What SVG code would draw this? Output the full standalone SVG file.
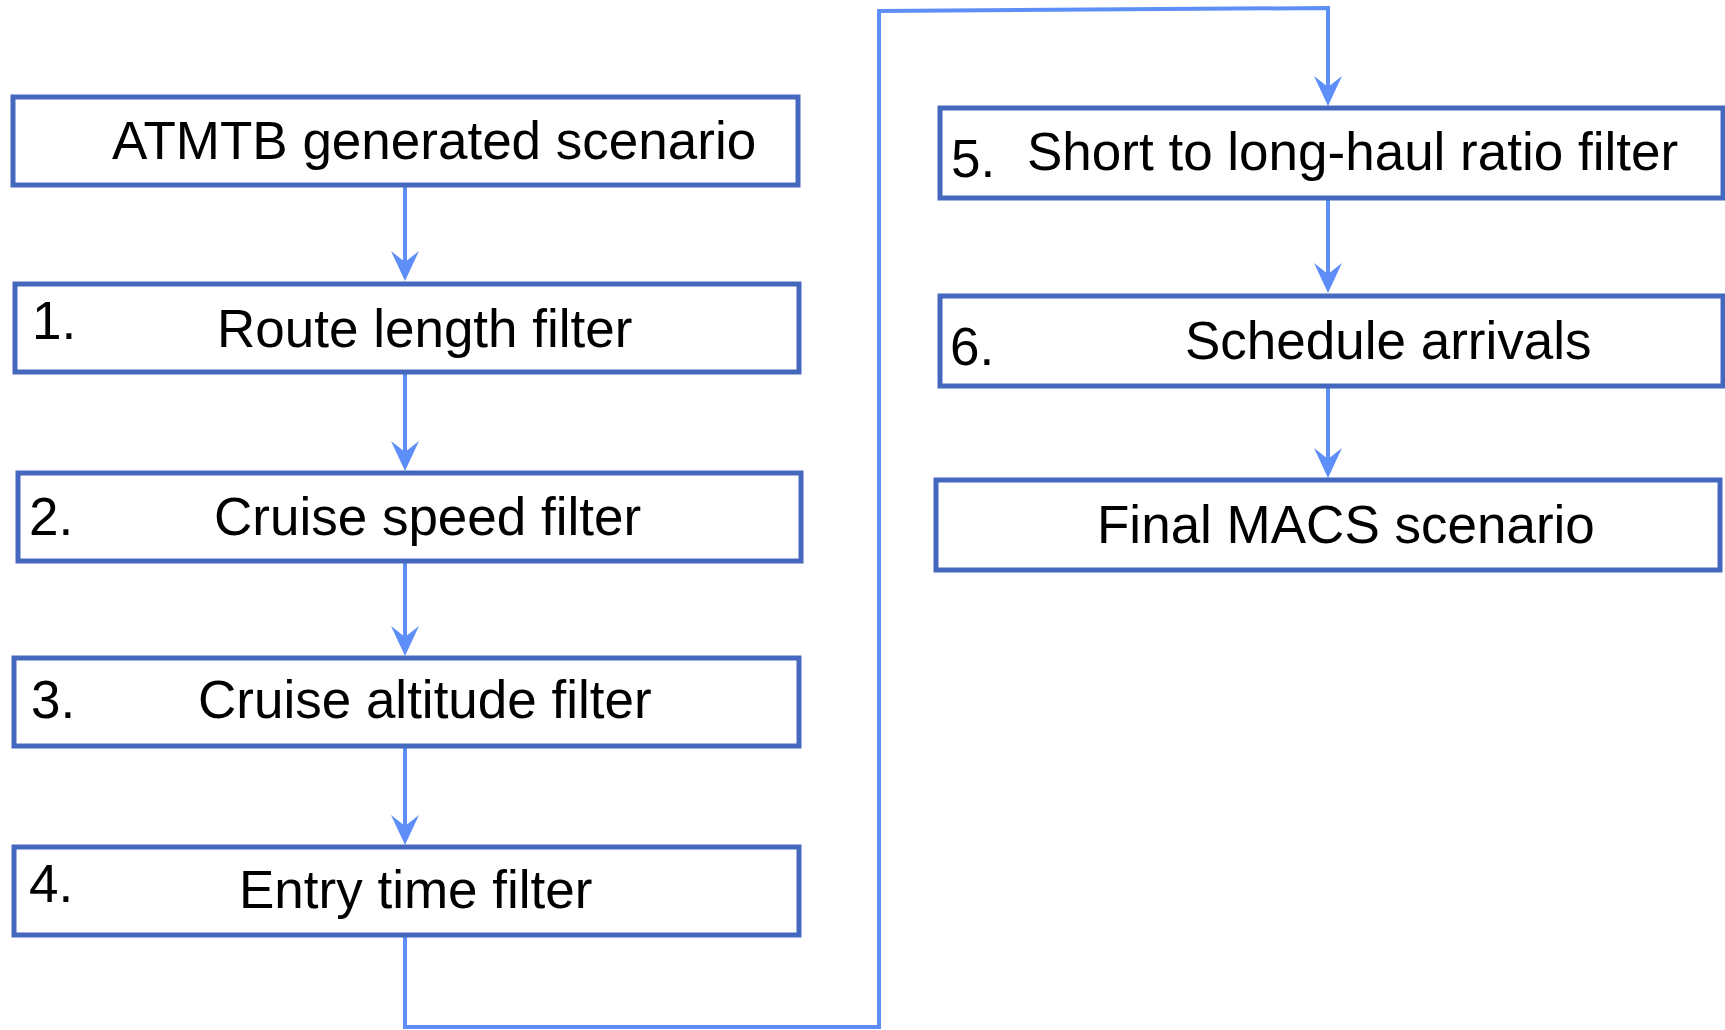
<svg xmlns="http://www.w3.org/2000/svg" width="1725" height="1030" viewBox="0 0 1725 1030">
<defs>
<marker id="ah" markerUnits="userSpaceOnUse" viewBox="-32 -16 34 32" markerWidth="34" markerHeight="32" refX="-12" refY="0" orient="auto">
<path d="M0,0 L-30,-14 L-19,0 L-30,14 Z" fill="#5E8EF7"/>
</marker>
</defs>
<style>
.box{fill:#ffffff;stroke:#4468BE;stroke-width:5}
.t{font-family:"Liberation Sans",Arial,sans-serif;font-size:53px;fill:#000000}
.c{fill:none;stroke:#5E8EF7;stroke-width:4}
.a{marker-end:url(#ah)}
</style>
<rect width="1725" height="1030" fill="#ffffff"/>
<g id="connectors">
<line class="c a" x1="405" y1="187" x2="405" y2="269"/>
<line class="c a" x1="405" y1="374" x2="405" y2="459"/>
<line class="c a" x1="405" y1="563" x2="405" y2="644"/>
<line class="c a" x1="405" y1="748" x2="405" y2="833"/>
<path class="c a" d="M405,937 L405,1027 L879,1027 L879,11 L1328,8 L1328,94"/>
<line class="c a" x1="1328" y1="200" x2="1328" y2="281"/>
<line class="c a" x1="1328" y1="387" x2="1328" y2="466"/>
</g>
<g id="n0">
<rect class="box" x="13" y="97" width="785" height="88"/>
<text class="t" x="112" y="159">ATMTB generated scenario</text>
</g>
<g id="n1">
<rect class="box" x="15" y="284" width="784" height="88"/>
<text class="t" x="32" y="339">1.</text>
<text class="t" x="217" y="347">Route length filter</text>
</g>
<g id="n2">
<rect class="box" x="18" y="473" width="783" height="88"/>
<text class="t" x="29" y="535">2.</text>
<text class="t" x="214" y="535">Cruise speed filter</text>
</g>
<g id="n3">
<rect class="box" x="14" y="658" width="785" height="88"/>
<text class="t" x="31" y="718">3.</text>
<text class="t" x="198" y="718">Cruise altitude filter</text>
</g>
<g id="n4">
<rect class="box" x="14" y="847" width="785" height="88"/>
<text class="t" x="29" y="902">4.</text>
<text class="t" x="239" y="908">Entry time filter</text>
</g>
<g id="n5">
<rect class="box" x="940" y="108" width="783" height="90"/>
<text class="t" x="951" y="177">5.</text>
<text class="t" x="1027" y="170">Short to long-haul ratio filter</text>
</g>
<g id="n6">
<rect class="box" x="940" y="296" width="783" height="90"/>
<text class="t" x="950" y="365">6.</text>
<text class="t" x="1185" y="359">Schedule arrivals</text>
</g>
<g id="n7">
<rect class="box" x="936" y="480" width="784" height="90"/>
<text class="t" x="1097" y="543">Final MACS scenario</text>
</g>
</svg>
